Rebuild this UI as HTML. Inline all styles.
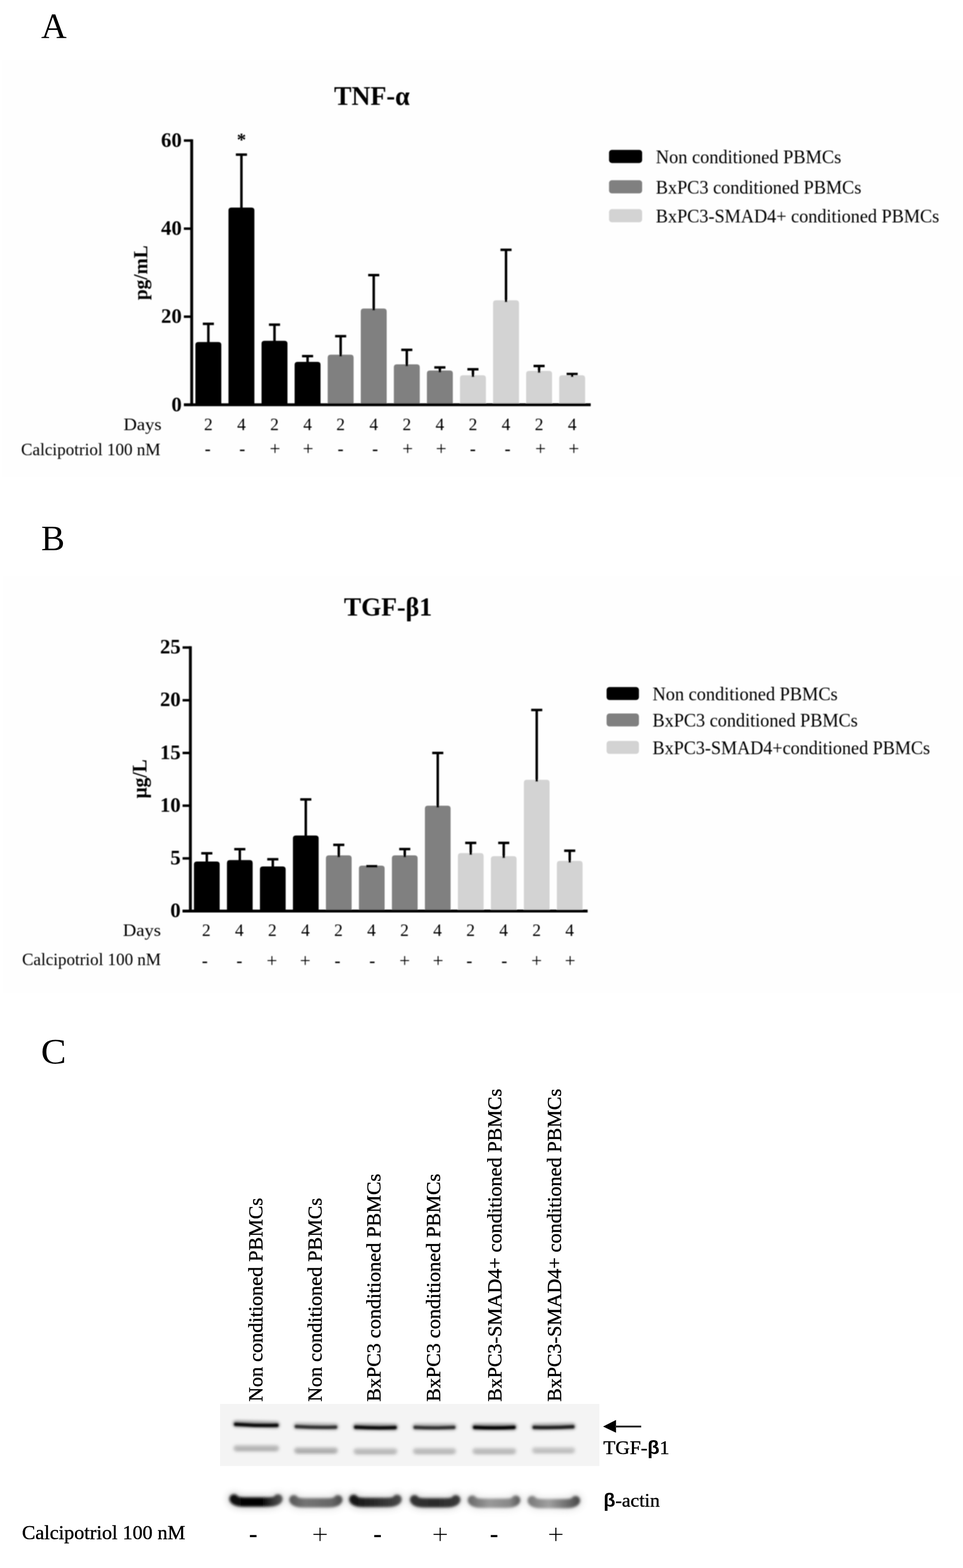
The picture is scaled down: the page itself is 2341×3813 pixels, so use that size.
<!DOCTYPE html>
<html lang="en"><head><meta charset="utf-8"><title>Figure</title>
<style>
html,body{margin:0;padding:0;background:#fff}
body{width:2341px;height:3813px;overflow:hidden}
svg{display:block}
text{font-family:"Liberation Serif","DejaVu Serif",serif;fill:#000}
#chartA text,#chartB text{fill:#050505}
#panelC text,.pl{stroke:#000;stroke-width:.7px;stroke-linejoin:round}
</style></head><body>
<svg width="2341" height="3813" viewBox="0 0 2341 3813">
<defs>
<filter id="b2" filterUnits="userSpaceOnUse" x="500" y="3400" width="1000" height="300"><feGaussianBlur stdDeviation="2.2"/></filter>
<filter id="b3" filterUnits="userSpaceOnUse" x="500" y="3400" width="1000" height="300"><feGaussianBlur stdDeviation="3.2"/></filter>
<filter id="b4" filterUnits="userSpaceOnUse" x="500" y="3400" width="1000" height="300"><feGaussianBlur stdDeviation="3.8"/></filter>
<filter id="b8" filterUnits="userSpaceOnUse" x="500" y="3400" width="1000" height="300"><feGaussianBlur stdDeviation="9"/></filter>
<linearGradient id="g1" gradientUnits="userSpaceOnUse" x1="558" x2="687"><stop offset="0" stop-color="#0a0a0a"/><stop offset=".6" stop-color="#000"/><stop offset=".8" stop-color="#333"/><stop offset="1" stop-color="#555"/></linearGradient>
<linearGradient id="g2" gradientUnits="userSpaceOnUse" x1="703" x2="832"><stop offset="0" stop-color="#555"/><stop offset=".3" stop-color="#747474"/><stop offset=".8" stop-color="#666"/><stop offset="1" stop-color="#4a4a4a"/></linearGradient>
<linearGradient id="g3" gradientUnits="userSpaceOnUse" x1="849" x2="976"><stop offset="0" stop-color="#111"/><stop offset=".5" stop-color="#2a2a2a"/><stop offset="1" stop-color="#4a4a4a"/></linearGradient>
<linearGradient id="g4" gradientUnits="userSpaceOnUse" x1="997" x2="1119"><stop offset="0" stop-color="#333"/><stop offset=".5" stop-color="#2a2a2a"/><stop offset="1" stop-color="#3a3a3a"/></linearGradient>
<linearGradient id="g5" gradientUnits="userSpaceOnUse" x1="1137" x2="1265"><stop offset="0" stop-color="#666"/><stop offset=".4" stop-color="#999"/><stop offset=".8" stop-color="#888"/><stop offset="1" stop-color="#555"/></linearGradient>
<linearGradient id="g6" gradientUnits="userSpaceOnUse" x1="1283" x2="1410"><stop offset="0" stop-color="#777"/><stop offset=".4" stop-color="#a0a0a0"/><stop offset=".8" stop-color="#666"/><stop offset="1" stop-color="#444"/></linearGradient>
<filter id="softA" filterUnits="userSpaceOnUse" x="0" y="150" width="2341" height="1010"><feGaussianBlur stdDeviation="0.8"/></filter>
<filter id="softB" filterUnits="userSpaceOnUse" x="0" y="1405" width="2341" height="1010"><feGaussianBlur stdDeviation="0.8"/></filter>
</defs>
<rect width="2341" height="3813" fill="#fff"/>
<rect x="6" y="147" width="2335" height="1014" fill="#fefefe"/>
<rect x="8" y="1401" width="2333" height="1014" fill="#fefefe"/>

<text x="100" y="91.5" font-size="86">A</text>
<text x="100" y="1338" font-size="86">B</text>
<text x="99.5" y="2586" font-size="86" textLength="61.5" lengthAdjust="spacingAndGlyphs">C</text>
<g id="chartA" filter="url(#softA)">
<text x="812" y="255" font-size="65" font-weight="bold" textLength="184" lengthAdjust="spacingAndGlyphs">TNF-α</text>
<path d="M475.0 984.3V838.7Q475.0 831.7 482.0 831.7H531.0Q538.0 831.7 538.0 838.7V984.3Z" fill="#000"/>
<path d="M506.5 836.2V787.5M493.0 787.5H520.0" stroke="#000" stroke-width="6" fill="none"/>
<path d="M555.4 984.3V511.7Q555.4 504.7 562.4 504.7H611.4Q618.4 504.7 618.4 511.7V984.3Z" fill="#000"/>
<path d="M586.9 509.2V376M573.4 376H600.4" stroke="#000" stroke-width="6" fill="none"/>
<path d="M635.8 984.3V835.7Q635.8 828.7 642.8 828.7H691.8Q698.8 828.7 698.8 835.7V984.3Z" fill="#000"/>
<path d="M667.3 833.2V789.5M653.8 789.5H680.8" stroke="#000" stroke-width="6" fill="none"/>
<path d="M716.2 984.3V887Q716.2 880 723.2 880H772.2Q779.2 880 779.2 887V984.3Z" fill="#000"/>
<path d="M747.7 884.5V866M734.2 866H761.2" stroke="#000" stroke-width="6" fill="none"/>
<path d="M796.6 984.3V869.4Q796.6 862.4 803.6 862.4H852.6Q859.6 862.4 859.6 869.4V984.3Z" fill="#808080"/>
<path d="M828.1 866.9V817.6M814.6 817.6H841.6" stroke="#000" stroke-width="6" fill="none"/>
<path d="M877.0 984.3V757.3Q877.0 750.3 884.0 750.3H933.0Q940.0 750.3 940.0 757.3V984.3Z" fill="#808080"/>
<path d="M908.5 754.8V669M895.0 669H922.0" stroke="#000" stroke-width="6" fill="none"/>
<path d="M957.4000000000001 984.3V893Q957.4000000000001 886 964.4000000000001 886H1013.4000000000001Q1020.4000000000001 886 1020.4000000000001 893V984.3Z" fill="#808080"/>
<path d="M988.9000000000001 890.5V850.8M975.4000000000001 850.8H1002.4000000000001" stroke="#000" stroke-width="6" fill="none"/>
<path d="M1037.8000000000002 984.3V908Q1037.8000000000002 901 1044.8000000000002 901H1093.8000000000002Q1100.8000000000002 901 1100.8000000000002 908V984.3Z" fill="#808080"/>
<path d="M1069.3000000000002 905.5V893.5M1055.8000000000002 893.5H1082.8000000000002" stroke="#000" stroke-width="6" fill="none"/>
<path d="M1118.2 984.3V919.6Q1118.2 912.6 1125.2 912.6H1174.2Q1181.2 912.6 1181.2 919.6V984.3Z" fill="#d3d3d3"/>
<path d="M1149.7 917.1V898M1136.2 898H1163.2" stroke="#000" stroke-width="6" fill="none"/>
<path d="M1198.6 984.3V737.2Q1198.6 730.2 1205.6 730.2H1254.6Q1261.6 730.2 1261.6 737.2V984.3Z" fill="#d3d3d3"/>
<path d="M1230.1 734.7V607.5M1216.6 607.5H1243.6" stroke="#000" stroke-width="6" fill="none"/>
<path d="M1279.0 984.3V909Q1279.0 902 1286.0 902H1335.0Q1342.0 902 1342.0 909V984.3Z" fill="#d3d3d3"/>
<path d="M1310.5 906.5V890M1297.0 890H1324.0" stroke="#000" stroke-width="6" fill="none"/>
<path d="M1359.4 984.3V919.6Q1359.4 912.6 1366.4 912.6H1415.4Q1422.4 912.6 1422.4 919.6V984.3Z" fill="#d3d3d3"/>
<path d="M1390.9 917.1V909.5M1377.4 909.5H1404.4" stroke="#000" stroke-width="6" fill="none"/>
<path d="M466 338.8V987.3" stroke="#000" stroke-width="7" fill="none"/>
<path d="M447 984.3H1436" stroke="#000" stroke-width="7" fill="none"/>
<path d="M447 341.8H466" stroke="#000" stroke-width="6" fill="none"/>
<text x="441.8" y="357.0" font-size="51.5" font-weight="bold" text-anchor="end" textLength="50.2" lengthAdjust="spacingAndGlyphs">60</text>
<path d="M447 556H466" stroke="#000" stroke-width="6" fill="none"/>
<text x="441.8" y="571.2" font-size="51.5" font-weight="bold" text-anchor="end" textLength="50.2" lengthAdjust="spacingAndGlyphs">40</text>
<path d="M447 770.1H466" stroke="#000" stroke-width="6" fill="none"/>
<text x="441.8" y="785.3000000000001" font-size="51.5" font-weight="bold" text-anchor="end" textLength="50.2" lengthAdjust="spacingAndGlyphs">20</text>
<path d="M447 984.3H466" stroke="#000" stroke-width="6" fill="none"/>
<text x="441.8" y="999.5" font-size="51.5" font-weight="bold" text-anchor="end" textLength="25.1" lengthAdjust="spacingAndGlyphs">0</text>
<text x="587" y="354.3" font-size="45" font-weight="bold" text-anchor="middle">*</text>
<text transform="translate(357.5 663.3) rotate(-90)" font-size="48" font-weight="bold" text-anchor="middle" textLength="133" lengthAdjust="spacingAndGlyphs">pg/mL</text>
<text x="300.3" y="1045.8" font-size="42" textLength="92.5" lengthAdjust="spacingAndGlyphs">Days</text>
<text x="506.5" y="1045.8" font-size="42" text-anchor="middle">2</text>
<text x="586.9" y="1045.8" font-size="42" text-anchor="middle">4</text>
<text x="667.3" y="1045.8" font-size="42" text-anchor="middle">2</text>
<text x="747.7" y="1045.8" font-size="42" text-anchor="middle">4</text>
<text x="828.1" y="1045.8" font-size="42" text-anchor="middle">2</text>
<text x="908.5" y="1045.8" font-size="42" text-anchor="middle">4</text>
<text x="988.9000000000001" y="1045.8" font-size="42" text-anchor="middle">2</text>
<text x="1069.3000000000002" y="1045.8" font-size="42" text-anchor="middle">4</text>
<text x="1149.7" y="1045.8" font-size="42" text-anchor="middle">2</text>
<text x="1230.1" y="1045.8" font-size="42" text-anchor="middle">4</text>
<text x="1310.5" y="1045.8" font-size="42" text-anchor="middle">2</text>
<text x="1390.9" y="1045.8" font-size="42" text-anchor="middle">4</text>
<text x="51.3" y="1107" font-size="42" textLength="339" lengthAdjust="spacingAndGlyphs">Calcipotriol 100 nM</text>
<text x="505" y="1105.2" font-size="43" font-weight="bold" text-anchor="middle">-</text>
<text x="589" y="1105.2" font-size="43" font-weight="bold" text-anchor="middle">-</text>
<text x="668.5" y="1106.3" font-size="46" text-anchor="middle">+</text>
<text x="749" y="1106.3" font-size="46" text-anchor="middle">+</text>
<text x="828" y="1105.2" font-size="43" font-weight="bold" text-anchor="middle">-</text>
<text x="912" y="1105.2" font-size="43" font-weight="bold" text-anchor="middle">-</text>
<text x="991" y="1106.3" font-size="46" text-anchor="middle">+</text>
<text x="1072.6" y="1106.3" font-size="46" text-anchor="middle">+</text>
<text x="1149.5" y="1105.2" font-size="43" font-weight="bold" text-anchor="middle">-</text>
<text x="1234" y="1105.2" font-size="43" font-weight="bold" text-anchor="middle">-</text>
<text x="1314" y="1106.3" font-size="46" text-anchor="middle">+</text>
<text x="1395" y="1106.3" font-size="46" text-anchor="middle">+</text>
<rect x="1480.5" y="364.4" width="80.5" height="32" rx="7" fill="#000"/>
<text x="1594.3" y="396.9" font-size="46.5" textLength="450.7" lengthAdjust="spacingAndGlyphs">Non conditioned PBMCs</text>
<rect x="1480.5" y="438.3" width="80.5" height="32" rx="7" fill="#808080"/>
<text x="1594.3" y="470.8" font-size="46.5" textLength="499.6" lengthAdjust="spacingAndGlyphs">BxPC3 conditioned PBMCs</text>
<rect x="1480.5" y="508.6" width="80.5" height="32" rx="7" fill="#d3d3d3"/>
<text x="1594.3" y="541.1" font-size="46.5" textLength="689" lengthAdjust="spacingAndGlyphs">BxPC3-SMAD4+ conditioned PBMCs</text>
</g>
<g id="chartB" filter="url(#softB)">
<text x="836" y="1496.7" font-size="64" font-weight="bold" textLength="214.5" lengthAdjust="spacingAndGlyphs">TGF-β1</text>
<path d="M471.5 2215.6V2102Q471.5 2095 478.5 2095H527.0Q534.0 2095 534.0 2102V2215.6Z" fill="#000"/>
<path d="M502.75 2099.5V2075M489.25 2075H516.25" stroke="#000" stroke-width="6" fill="none"/>
<path d="M551.7 2215.6V2098.5Q551.7 2091.5 558.7 2091.5H607.2Q614.2 2091.5 614.2 2098.5V2215.6Z" fill="#000"/>
<path d="M582.95 2096.0V2065M569.45 2065H596.45" stroke="#000" stroke-width="6" fill="none"/>
<path d="M631.9 2215.6V2114Q631.9 2107 638.9 2107H687.4Q694.4 2107 694.4 2114V2215.6Z" fill="#000"/>
<path d="M663.15 2111.5V2089.5M649.65 2089.5H676.65" stroke="#000" stroke-width="6" fill="none"/>
<path d="M712.1 2215.6V2038.7Q712.1 2031.7 719.1 2031.7H767.6Q774.6 2031.7 774.6 2038.7V2215.6Z" fill="#000"/>
<path d="M743.35 2036.2V1944M729.85 1944H756.85" stroke="#000" stroke-width="6" fill="none"/>
<path d="M792.3 2215.6V2087Q792.3 2080 799.3 2080H847.8Q854.8 2080 854.8 2087V2215.6Z" fill="#808080"/>
<path d="M823.55 2084.5V2054.5M810.05 2054.5H837.05" stroke="#000" stroke-width="6" fill="none"/>
<path d="M872.5 2215.6V2112Q872.5 2105 879.5 2105H928.0Q935.0 2105 935.0 2112V2215.6Z" fill="#808080"/>
<path d="M903.75 2109.5V2106.5M890.25 2106.5H917.25" stroke="#000" stroke-width="6" fill="none"/>
<path d="M952.7 2215.6V2087Q952.7 2080 959.7 2080H1008.2Q1015.2 2080 1015.2 2087V2215.6Z" fill="#808080"/>
<path d="M983.95 2084.5V2064.8M970.45 2064.8H997.45" stroke="#000" stroke-width="6" fill="none"/>
<path d="M1032.9 2215.6V1966.3Q1032.9 1959.3 1039.9 1959.3H1088.4Q1095.4 1959.3 1095.4 1966.3V2215.6Z" fill="#808080"/>
<path d="M1064.15 1963.8V1831M1050.65 1831H1077.65" stroke="#000" stroke-width="6" fill="none"/>
<path d="M1113.1 2215.6V2081.4Q1113.1 2074.4 1120.1 2074.4H1168.6Q1175.6 2074.4 1175.6 2081.4V2215.6Z" fill="#d3d3d3"/>
<path d="M1144.35 2078.9V2049.8M1130.85 2049.8H1157.85" stroke="#000" stroke-width="6" fill="none"/>
<path d="M1193.3000000000002 2215.6V2089Q1193.3000000000002 2082 1200.3000000000002 2082H1248.8000000000002Q1255.8000000000002 2082 1255.8000000000002 2089V2215.6Z" fill="#d3d3d3"/>
<path d="M1224.5500000000002 2086.5V2049.8M1211.0500000000002 2049.8H1238.0500000000002" stroke="#000" stroke-width="6" fill="none"/>
<path d="M1273.5 2215.6V1903.3Q1273.5 1896.3 1280.5 1896.3H1329.0Q1336.0 1896.3 1336.0 1903.3V2215.6Z" fill="#d3d3d3"/>
<path d="M1304.75 1900.8V1726.4M1291.25 1726.4H1318.25" stroke="#000" stroke-width="6" fill="none"/>
<path d="M1353.7 2215.6V2100.5Q1353.7 2093.5 1360.7 2093.5H1409.2Q1416.2 2093.5 1416.2 2100.5V2215.6Z" fill="#d3d3d3"/>
<path d="M1384.95 2098.0V2068.8M1371.45 2068.8H1398.45" stroke="#000" stroke-width="6" fill="none"/>
<path d="M462.8 1571.6V2218.6" stroke="#000" stroke-width="7" fill="none"/>
<path d="M443.8 2215.6H1428.5" stroke="#000" stroke-width="7" fill="none"/>
<path d="M443.8 1574.6H462.8" stroke="#000" stroke-width="6" fill="none"/>
<text x="439.1" y="1589.1999999999998" font-size="51.5" font-weight="bold" text-anchor="end" textLength="50.2" lengthAdjust="spacingAndGlyphs">25</text>
<path d="M443.8 1702.8H462.8" stroke="#000" stroke-width="6" fill="none"/>
<text x="439.1" y="1717.3999999999999" font-size="51.5" font-weight="bold" text-anchor="end" textLength="50.2" lengthAdjust="spacingAndGlyphs">20</text>
<path d="M443.8 1831H462.8" stroke="#000" stroke-width="6" fill="none"/>
<text x="439.1" y="1845.6" font-size="51.5" font-weight="bold" text-anchor="end" textLength="50.2" lengthAdjust="spacingAndGlyphs">15</text>
<path d="M443.8 1959.2H462.8" stroke="#000" stroke-width="6" fill="none"/>
<text x="439.1" y="1973.8" font-size="51.5" font-weight="bold" text-anchor="end" textLength="50.2" lengthAdjust="spacingAndGlyphs">10</text>
<path d="M443.8 2087.4H462.8" stroke="#000" stroke-width="6" fill="none"/>
<text x="439.1" y="2102.0" font-size="51.5" font-weight="bold" text-anchor="end" textLength="25.1" lengthAdjust="spacingAndGlyphs">5</text>
<path d="M443.8 2215.6H462.8" stroke="#000" stroke-width="6" fill="none"/>
<text x="439.1" y="2230.2" font-size="51.5" font-weight="bold" text-anchor="end" textLength="25.1" lengthAdjust="spacingAndGlyphs">0</text>
<text transform="translate(355.5 1894) rotate(-90)" font-size="51" font-weight="bold" text-anchor="middle" textLength="95" lengthAdjust="spacingAndGlyphs">μg/L</text>
<text x="298.7" y="2276" font-size="42" textLength="92.5" lengthAdjust="spacingAndGlyphs">Days</text>
<text x="501.5" y="2276" font-size="42" text-anchor="middle">2</text>
<text x="581.8" y="2276" font-size="42" text-anchor="middle">4</text>
<text x="662.1" y="2276" font-size="42" text-anchor="middle">2</text>
<text x="742.4" y="2276" font-size="42" text-anchor="middle">4</text>
<text x="822.7" y="2276" font-size="42" text-anchor="middle">2</text>
<text x="903.0" y="2276" font-size="42" text-anchor="middle">4</text>
<text x="983.3" y="2276" font-size="42" text-anchor="middle">2</text>
<text x="1063.6" y="2276" font-size="42" text-anchor="middle">4</text>
<text x="1143.9" y="2276" font-size="42" text-anchor="middle">2</text>
<text x="1224.1999999999998" y="2276" font-size="42" text-anchor="middle">4</text>
<text x="1304.5" y="2276" font-size="42" text-anchor="middle">2</text>
<text x="1384.8" y="2276" font-size="42" text-anchor="middle">4</text>
<text x="53.8" y="2347.3" font-size="42" textLength="337.5" lengthAdjust="spacingAndGlyphs">Calcipotriol 100 nM</text>
<text x="498" y="2349.9" font-size="43" font-weight="bold" text-anchor="middle">-</text>
<text x="582" y="2349.9" font-size="43" font-weight="bold" text-anchor="middle">-</text>
<text x="661" y="2351.3" font-size="46" text-anchor="middle">+</text>
<text x="742" y="2351.3" font-size="46" text-anchor="middle">+</text>
<text x="820.3" y="2349.9" font-size="43" font-weight="bold" text-anchor="middle">-</text>
<text x="905" y="2349.9" font-size="43" font-weight="bold" text-anchor="middle">-</text>
<text x="983.7" y="2351.3" font-size="46" text-anchor="middle">+</text>
<text x="1065" y="2351.3" font-size="46" text-anchor="middle">+</text>
<text x="1141" y="2349.9" font-size="43" font-weight="bold" text-anchor="middle">-</text>
<text x="1226" y="2349.9" font-size="43" font-weight="bold" text-anchor="middle">-</text>
<text x="1304.5" y="2351.3" font-size="46" text-anchor="middle">+</text>
<text x="1386" y="2351.3" font-size="46" text-anchor="middle">+</text>
<rect x="1474.6" y="1670.7" width="78.6" height="31.5" rx="7" fill="#000"/>
<text x="1586.3" y="1703.0" font-size="46.5" textLength="450.1" lengthAdjust="spacingAndGlyphs">Non conditioned PBMCs</text>
<rect x="1474.6" y="1735" width="78.6" height="31.5" rx="7" fill="#808080"/>
<text x="1586.3" y="1767.3" font-size="46.5" textLength="498.9" lengthAdjust="spacingAndGlyphs">BxPC3 conditioned PBMCs</text>
<rect x="1474.6" y="1801.8" width="78.6" height="31.5" rx="7" fill="#d3d3d3"/>
<text x="1586.3" y="1834.1" font-size="46.5" textLength="674.7" lengthAdjust="spacingAndGlyphs">BxPC3-SMAD4+conditioned PBMCs</text>
</g>
<g id="panelC">
<text transform="translate(638.2 3408.5) rotate(-90)" font-size="47.5" textLength="495.5" lengthAdjust="spacingAndGlyphs">Non conditioned PBMCs</text>
<text transform="translate(782.4 3408.5) rotate(-90)" font-size="47.5" textLength="495.5" lengthAdjust="spacingAndGlyphs">Non conditioned PBMCs</text>
<text transform="translate(924.6 3408.5) rotate(-90)" font-size="47.5" textLength="554.5" lengthAdjust="spacingAndGlyphs">BxPC3 conditioned PBMCs</text>
<text transform="translate(1070 3408.5) rotate(-90)" font-size="47.5" textLength="554.5" lengthAdjust="spacingAndGlyphs">BxPC3 conditioned PBMCs</text>
<text transform="translate(1219 3408.5) rotate(-90)" font-size="47.5" textLength="761.0" lengthAdjust="spacingAndGlyphs">BxPC3-SMAD4+ conditioned PBMCs</text>
<text transform="translate(1364.4 3408.5) rotate(-90)" font-size="47.5" textLength="761.0" lengthAdjust="spacingAndGlyphs">BxPC3-SMAD4+ conditioned PBMCs</text>
<rect x="535" y="3414" width="922" height="151" fill="#f4f4f4"/>
<g filter="url(#b8)" opacity="0.22">
<path d="M568.9 3645Q571.9 3652.5 593.9 3652.5H650.8Q672.8 3652.5 675.8 3645" stroke="url(#g1)" stroke-width="30" stroke-linecap="round" fill="none"/>
<path d="M714.4 3647Q717.4 3654.5 739.4 3654.5H796.3Q818.3 3654.5 821.3 3647" stroke="url(#g2)" stroke-width="30" stroke-linecap="round" fill="none"/>
<path d="M859.9 3646Q862.9 3653.5 884.9 3653.5H940.2Q962.2 3653.5 965.2 3646" stroke="url(#g3)" stroke-width="30" stroke-linecap="round" fill="none"/>
<path d="M1007.7 3647Q1010.7 3654.5 1032.7 3654.5H1083Q1105 3654.5 1108 3647" stroke="url(#g4)" stroke-width="30" stroke-linecap="round" fill="none"/>
<path d="M1148.2 3648Q1151.2 3655.5 1173.2 3655.5H1228.6Q1250.6 3655.5 1253.6 3648" stroke="url(#g5)" stroke-width="30" stroke-linecap="round" fill="none"/>
<path d="M1293.7 3649Q1296.7 3656.5 1318.7 3656.5H1374Q1396 3656.5 1399 3649" stroke="url(#g6)" stroke-width="30" stroke-linecap="round" fill="none"/>
</g>
<g filter="url(#b4)">
<path d="M574 3462.5L672 3465" stroke="#000" stroke-width="17" stroke-linecap="round" fill="none" opacity="0.38"/>
<path d="M721.5 3468L814.7 3469.5" stroke="#000" stroke-width="17" stroke-linecap="round" fill="none" opacity="0.29"/>
<path d="M865.8 3469.5L959.3 3470.5" stroke="#000" stroke-width="17" stroke-linecap="round" fill="none" opacity="0.38"/>
<path d="M1010.3 3470L1102 3470" stroke="#000" stroke-width="17" stroke-linecap="round" fill="none" opacity="0.29"/>
<path d="M1155 3470L1248.3 3470" stroke="#000" stroke-width="17" stroke-linecap="round" fill="none" opacity="0.4"/>
<path d="M1299.7 3470L1391.5 3468.5" stroke="#000" stroke-width="17" stroke-linecap="round" fill="none" opacity="0.33"/>
<path d="M575 3522H671" stroke="#555" stroke-width="15.5" stroke-linecap="round" fill="none" opacity="0.34"/>
<path d="M577 3525H669" stroke="#555" stroke-width="5" stroke-linecap="round" fill="none" opacity="0.19"/>
<path d="M722.5 3527.5H813.7" stroke="#555" stroke-width="15.5" stroke-linecap="round" fill="none" opacity="0.37"/>
<path d="M724.5 3530.5H811.7" stroke="#555" stroke-width="5" stroke-linecap="round" fill="none" opacity="0.21"/>
<path d="M866.8 3529.6H958.3" stroke="#555" stroke-width="15.5" stroke-linecap="round" fill="none" opacity="0.31"/>
<path d="M868.8 3532.6H956.3" stroke="#555" stroke-width="5" stroke-linecap="round" fill="none" opacity="0.17"/>
<path d="M1011.3 3529H1101" stroke="#555" stroke-width="15.5" stroke-linecap="round" fill="none" opacity="0.31"/>
<path d="M1013.3 3532H1099" stroke="#555" stroke-width="5" stroke-linecap="round" fill="none" opacity="0.17"/>
<path d="M1156 3529H1247.3" stroke="#555" stroke-width="15.5" stroke-linecap="round" fill="none" opacity="0.31"/>
<path d="M1158 3532H1245.3" stroke="#555" stroke-width="5" stroke-linecap="round" fill="none" opacity="0.17"/>
<path d="M1300.7 3527H1390.5" stroke="#555" stroke-width="15.5" stroke-linecap="round" fill="none" opacity="0.28"/>
<path d="M1302.7 3530H1388.5" stroke="#555" stroke-width="5" stroke-linecap="round" fill="none" opacity="0.16"/>
</g>
<g filter="url(#b2)">
<path d="M573 3463.5Q623.0 3467.1499999999996 673 3466" stroke="#000" stroke-width="8" stroke-linecap="round" fill="none" opacity="0.95"/>
<path d="M720.5 3469Q768.1 3472.1499999999996 815.7 3470.5" stroke="#000" stroke-width="8" stroke-linecap="round" fill="none" opacity="0.72"/>
<path d="M864.8 3470.5Q912.55 3473.3999999999996 960.3 3471.5" stroke="#000" stroke-width="8" stroke-linecap="round" fill="none" opacity="0.95"/>
<path d="M1009.3 3471Q1056.15 3473.3999999999996 1103 3471" stroke="#000" stroke-width="8" stroke-linecap="round" fill="none" opacity="0.72"/>
<path d="M1154 3471Q1201.65 3473.3999999999996 1249.3 3471" stroke="#000" stroke-width="8" stroke-linecap="round" fill="none" opacity="1.0"/>
<path d="M1298.7 3471Q1345.6 3472.6499999999996 1392.5 3469.5" stroke="#000" stroke-width="8" stroke-linecap="round" fill="none" opacity="0.82"/>
</g>
<g filter="url(#b3)">
<path d="M568.9 3645Q571.9 3652.5 593.9 3652.5H650.8Q672.8 3652.5 675.8 3645" stroke="url(#g1)" stroke-width="22.5" stroke-linecap="round" fill="none"/>
<path d="M714.4 3647Q717.4 3654.5 739.4 3654.5H796.3Q818.3 3654.5 821.3 3647" stroke="url(#g2)" stroke-width="22.5" stroke-linecap="round" fill="none"/>
<path d="M859.9 3646Q862.9 3653.5 884.9 3653.5H940.2Q962.2 3653.5 965.2 3646" stroke="url(#g3)" stroke-width="22.5" stroke-linecap="round" fill="none"/>
<path d="M1007.7 3647Q1010.7 3654.5 1032.7 3654.5H1083Q1105 3654.5 1108 3647" stroke="url(#g4)" stroke-width="22.5" stroke-linecap="round" fill="none"/>
<path d="M1148.2 3648Q1151.2 3655.5 1173.2 3655.5H1228.6Q1250.6 3655.5 1253.6 3648" stroke="url(#g5)" stroke-width="22.5" stroke-linecap="round" fill="none"/>
<path d="M1293.7 3649Q1296.7 3656.5 1318.7 3656.5H1374Q1396 3656.5 1399 3649" stroke="url(#g6)" stroke-width="22.5" stroke-linecap="round" fill="none"/>
</g>
<path d="M1466 3469L1497.5 3453V3484Z" fill="#000"/><path d="M1495 3469H1558.7" stroke="#222" stroke-width="4.6" fill="none"/>
<text x="1466.5" y="3536.4" font-size="46" textLength="161" lengthAdjust="spacingAndGlyphs">TGF-<tspan font-family="Liberation Sans,sans-serif" font-weight="bold" style="stroke:none">β</tspan>1</text>
<text x="1467" y="3664" font-size="46" textLength="137" lengthAdjust="spacingAndGlyphs"><tspan font-family="Liberation Sans,sans-serif" font-weight="bold" style="stroke:none">β</tspan>-actin</text>
<text x="53.5" y="3743.3" font-size="48.5" textLength="397" lengthAdjust="spacingAndGlyphs">Calcipotriol 100 nM</text>
<text x="615.7" y="3750" font-size="62" font-weight="bold" text-anchor="middle" style="stroke:none">-</text>
<text x="778" y="3755" font-size="71" text-anchor="middle" style="stroke:#fff;stroke-width:.8px">+</text>
<text x="917.8" y="3750" font-size="62" font-weight="bold" text-anchor="middle" style="stroke:none">-</text>
<text x="1070" y="3755" font-size="71" text-anchor="middle" style="stroke:#fff;stroke-width:.8px">+</text>
<text x="1201" y="3750" font-size="62" font-weight="bold" text-anchor="middle" style="stroke:none">-</text>
<text x="1351.3" y="3755" font-size="71" text-anchor="middle" style="stroke:#fff;stroke-width:.8px">+</text>
</g>
</svg>
</body></html>
